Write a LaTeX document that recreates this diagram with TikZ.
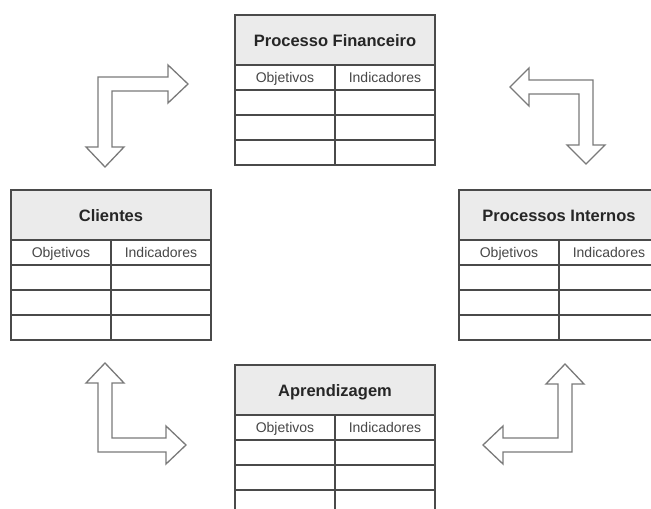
\documentclass[tikz,border=0pt]{standalone}
\usepackage{fontspec}
\setmainfont{Liberation Sans}
\definecolor{edge}{HTML}{4A4A4A}
\definecolor{hdrfill}{HTML}{EBEBEB}
\definecolor{arrowedge}{HTML}{7A7A7A}
\tikzset{
  tline/.style={draw=edge, line width=1.6pt},
  hdr/.style={font=\bfseries\fontsize{16.5}{16.5}\selectfont, text=black!85, inner sep=0pt, anchor=base},
  sub/.style={font=\fontsize{14}{14}\selectfont, text=black!72, inner sep=0pt, anchor=base},
  barrow/.style={draw=arrowedge, line width=1.3pt, fill=white, line join=miter},
}
\newcommand\bsctable[4]{%
  \fill[hdrfill] (#2,#3) rectangle ++(200,50);
  \node[hdr] (#1) at (#2+100,#3+31) {#4};
  \node[sub] (#1o) at (#2+50,#3+67.5) {Objetivos};
  \node[sub] (#1i) at (#2+150,#3+67.5) {Indicadores};
  \draw[tline] (#2,#3) rectangle ++(200,150);
  \foreach \dy in {50,75,100,125} \draw[tline] (#2,#3+\dy) -- ++(200,0);
  \draw[tline] (#2+100,#3+50) -- ++(0,100);
}
\begin{document}
\begin{tikzpicture}[x=1pt,y=-1pt]
\useasboundingbox (0,0) rectangle (651,509);
\clip (0,0) rectangle (651,509);
\fill[white] (0,0) rectangle (651,509);
\bsctable{fin}{235}{15}{Processo Financeiro}
\bsctable{cli}{11}{190}{Clientes}
\bsctable{int}{459}{190}{Processos Internos}
\bsctable{apr}{235}{365}{Aprendizagem}
% block arrows
\draw[barrow] (98,77) -- (168,77) -- (168,65) -- (188,84) -- (168,103) -- (168,91) -- (112,91) -- (112,147) -- (124,147) -- (105,167) -- (86,147) -- (98,147) -- cycle;
\draw[barrow] (593,80) -- (593,145) -- (605,145) -- (586,164) -- (567,145) -- (579,145) -- (579,94) -- (529,94) -- (529,106) -- (510,87) -- (529,68) -- (529,80) -- cycle;
\draw[barrow] (98,452) -- (98,383) -- (86,383) -- (105,363) -- (124,383) -- (112,383) -- (112,438) -- (166,438) -- (166,426) -- (186,445) -- (166,464) -- (166,452) -- cycle;
\draw[barrow] (572,452) -- (572,384) -- (584,384) -- (565,364) -- (546,384) -- (558,384) -- (558,438) -- (503,438) -- (503,426) -- (483,445) -- (503,464) -- (503,452) -- cycle;
\end{tikzpicture}
\end{document}
